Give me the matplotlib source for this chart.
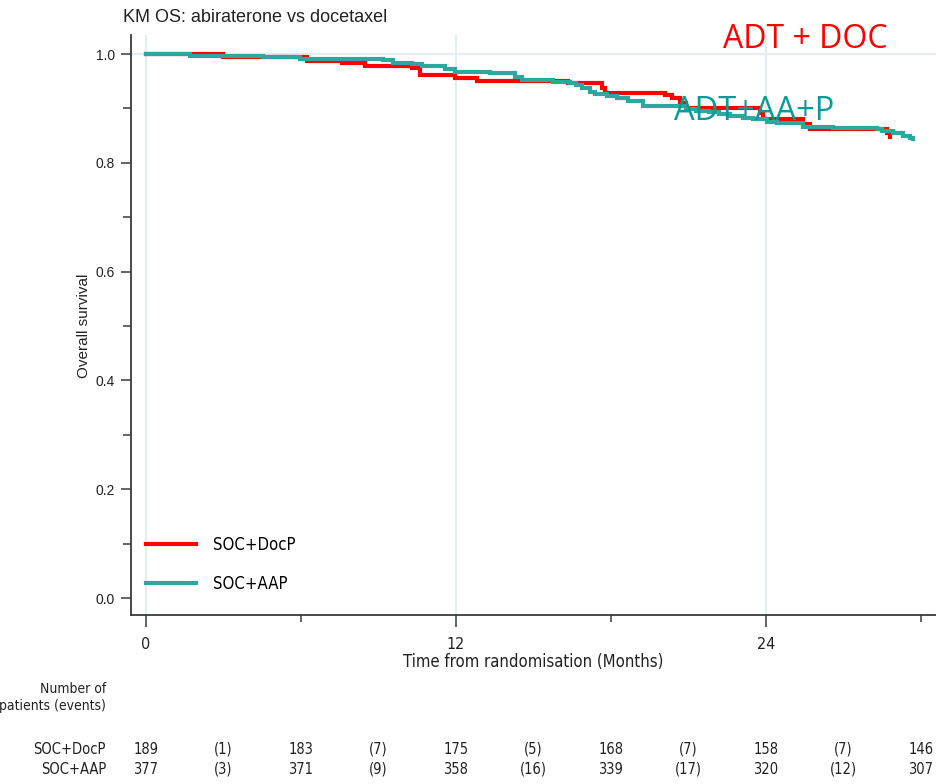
import matplotlib
matplotlib.use("Agg")
import matplotlib.pyplot as plt
from matplotlib import font_manager
from matplotlib.lines import Line2D
from matplotlib.transforms import blended_transform_factory

# Kaplan-Meier step points (months, survival probability after each drop)
doc_time = [0, 2.99, 6.22, 7.58, 8.48, 10.29, 10.61, 11.96, 12.80, 16.35,
            17.64, 17.77, 20.09, 20.35, 20.67, 20.90, 23.77, 23.89, 25.44,
            25.71, 28.68, 28.80]
doc_surv = [1.0, 0.9947, 0.9877, 0.9829, 0.9779, 0.9737, 0.9623, 0.9563,
            0.9509, 0.9461, 0.9375, 0.9289, 0.9246, 0.9186, 0.9100, 0.9002,
            0.8915, 0.8796, 0.8713, 0.8616, 0.8542, 0.8480]

aap_time = [0, 1.70, 4.54, 5.96, 9.19, 9.57, 10.29, 10.67, 11.58, 11.96,
            13.32, 14.29, 14.56, 15.76, 16.41, 16.65, 16.87, 17.19, 17.38,
            17.84, 18.22, 18.66, 19.25, 20.90, 21.30, 21.80, 22.20, 22.60,
            23.10, 23.50, 24.04, 24.43, 25.44, 26.60, 28.30, 28.49, 28.92,
            29.31, 29.58, 29.70]
aap_surv = [1.0, 0.9969, 0.9945, 0.9908, 0.9884, 0.9840, 0.9810, 0.9774,
            0.9719, 0.9675, 0.9645, 0.9583, 0.9522, 0.9491, 0.9461, 0.9430,
            0.9370, 0.9307, 0.9265, 0.9228, 0.9186, 0.9142, 0.9039, 0.8995,
            0.8960, 0.8925, 0.8890, 0.8855, 0.8830, 0.8800, 0.8756, 0.8726,
            0.8667, 0.8646, 0.8630, 0.8585, 0.8542, 0.8498, 0.8465, 0.8438]

arm_labels = ["SOC+DocP", "SOC+AAP"]

# Numbers at risk and events table
risk_times = [0, 6, 12, 18, 24, 30]
event_times = [3, 9, 15, 21, 27]
doc_at_risk = [189, 183, 175, 168, 158, 146]
doc_events = [1, 7, 5, 7, 7]
aap_at_risk = [377, 371, 358, 339, 320, 307]
aap_events = [3, 9, 16, 17, 12]

x_major = [0, 12, 24]
x_minor = [6, 18, 30]
y_major = [0.0, 0.2, 0.4, 0.6, 0.8, 1.0]
y_minor = [0.1, 0.3, 0.5, 0.7, 0.9]

RED = "#ff0000"
TEAL = "#2ea89e"
TEAL_TXT = "#0b9a96"
GRID = "#e4eef0"
AXC = "#3a3a3a"

installed = {f.name for f in font_manager.fontManager.ttflist}
if "Liberation Sans Narrow" in installed:
    NARROW = dict(family="Liberation Sans Narrow")
else:
    NARROW = dict(family="DejaVu Sans", stretch="condensed")
PLAIN = dict(family="Liberation Sans")
CALLOUT = dict(family="Open Sans")

W, H = 936, 784
fig = plt.figure(figsize=(W / 100, H / 100), dpi=100)


def fx(px):
    return px / W


def fy(py):
    return 1 - py / H


ax = fig.add_axes([fx(131), fy(615), fx(936) - fx(131), fy(35) - fy(615)])
ax.set_xlim((131 - 146) / 25.83, (936 - 146) / 25.83)
ax.set_ylim(1 - (615 - 54) / 544, 1 - (35 - 54) / 544)

# grid
for xv in x_major:
    ax.axvline(xv, color=GRID, lw=1.6, zorder=0)
ax.axhline(1.0, color=GRID, lw=1.6, zorder=0)

ax.step(doc_time, doc_surv, where="post", color=RED, lw=3.0,
        solid_joinstyle="miter", zorder=3)
ax.step(aap_time, aap_surv, where="post", color=TEAL, lw=3.0,
        solid_joinstyle="miter", zorder=4)

for side in ("top", "right"):
    ax.spines[side].set_visible(False)
for side in ("left", "bottom"):
    ax.spines[side].set_color(AXC)
    ax.spines[side].set_linewidth(1.3)

ax.set_xticks(x_major)
ax.set_xticks(x_minor, minor=True)
ax.set_yticks(y_major)
ax.set_yticks(y_minor, minor=True)
ax.set_yticklabels([f"{v:.1f}" for v in y_major], fontsize=10, **PLAIN)
ax.set_xticklabels([str(v) for v in x_major], fontsize=11.5, **NARROW)
ax.tick_params(axis="x", which="major", length=8.5, width=1.1, color=AXC,
               pad=7, labelcolor="#222222")
ax.tick_params(axis="x", which="minor", length=5, width=1.1, color=AXC)
ax.tick_params(axis="y", which="major", length=7.5, width=1.1, color=AXC,
               pad=4, labelcolor="#222222")
ax.tick_params(axis="y", which="minor", length=5.5, width=1.1, color=AXC)

ax.set_xlabel("Time from randomisation (Months)", fontsize=12, labelpad=1,
              color="#222222", **NARROW)
fig.text(fx(84), fy(326), "Overall survival", rotation=90, ha="center",
         va="center", fontsize=11, color="#222222", **PLAIN)

fig.text(fx(123), fy(17), "KM OS: abiraterone vs docetaxel", ha="left",
         va="center", fontsize=13, color="#222222", **PLAIN)

handles = [Line2D([], [], color=RED, lw=3.0), Line2D([], [], color=TEAL, lw=3.0)]
ax.legend(handles, arm_labels, loc="upper left",
          bbox_to_anchor=(fx(146), fy(536)), bbox_transform=fig.transFigure,
          frameon=False, prop=dict(size=12, **NARROW), handlelength=3.0,
          handletextpad=1.0, labelspacing=1.25, borderpad=0,
          borderaxespad=0)

# arm call-outs
fig.text(fx(805), fy(40), "ADT + DOC", ha="center", va="center",
         fontsize=23, color=RED, **CALLOUT)
fig.text(fx(754), fy(112), "ADT+AA+P", ha="center", va="center",
         fontsize=23.5, color=TEAL_TXT, zorder=10, **CALLOUT)

# risk table
tr = blended_transform_factory(ax.transData, fig.transFigure)
tab_font = dict(fontsize=10.5, color="#222222", **NARROW)
head_font = dict(fontsize=10, color="#222222", **NARROW)
fig.text(fx(106), fy(689), "Number of", ha="right", va="center", **head_font)
fig.text(fx(106), fy(706), "patients (events)", ha="right", va="center",
         **head_font)
rows = [(fy(749), arm_labels[0], doc_at_risk, doc_events),
        (fy(769), arm_labels[1], aap_at_risk, aap_events)]
for yy, label, at_risk, events in rows:
    fig.text(fx(106), yy, label, ha="right", va="center", **tab_font)
    for t, n in zip(risk_times, at_risk):
        ax.text(t, yy, str(n), transform=tr, ha="center", va="center",
                clip_on=False, **tab_font)
    for t, e in zip(event_times, events):
        ax.text(t, yy, f"({e})", transform=tr, ha="center", va="center",
                clip_on=False, **tab_font)

fig.savefig("out.png", dpi=100)
